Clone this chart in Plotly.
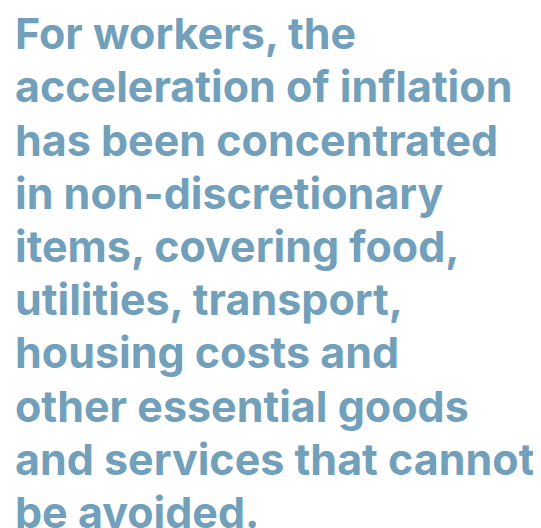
import plotly.graph_objects as go

lines = [
    "For workers, the",
    "acceleration of inflation",
    "has been concentrated",
    "in non-discretionary",
    "items, covering food,",
    "utilities, transport,",
    "housing costs and",
    "other essential goods",
    "and services that cannot",
    "be avoided.",
]

W, H = 541, 528
first_baseline = 47.5
spacing = 53.2
font_size = 43
left_px = 4.5

fig = go.Figure()
annotations = []
for i, t in enumerate(lines):
    baseline = first_baseline + i * spacing
    center = baseline - 0.52 * font_size
    annotations.append(dict(
        text=t, x=left_px / W, y=1 - center / H,
        xref="paper", yref="paper", xanchor="left", yanchor="middle",
        showarrow=False, align="left",
        font=dict(family="Inter, Liberation Sans, sans-serif", size=font_size,
                  weight=700, color="#72a0bb"),
    ))
fig.update_layout(
    width=W, height=H, margin=dict(l=0, r=0, t=0, b=0),
    paper_bgcolor="white", plot_bgcolor="white",
    xaxis=dict(visible=False), yaxis=dict(visible=False),
    annotations=annotations, showlegend=False,
)
fig.write_html("out.html")
